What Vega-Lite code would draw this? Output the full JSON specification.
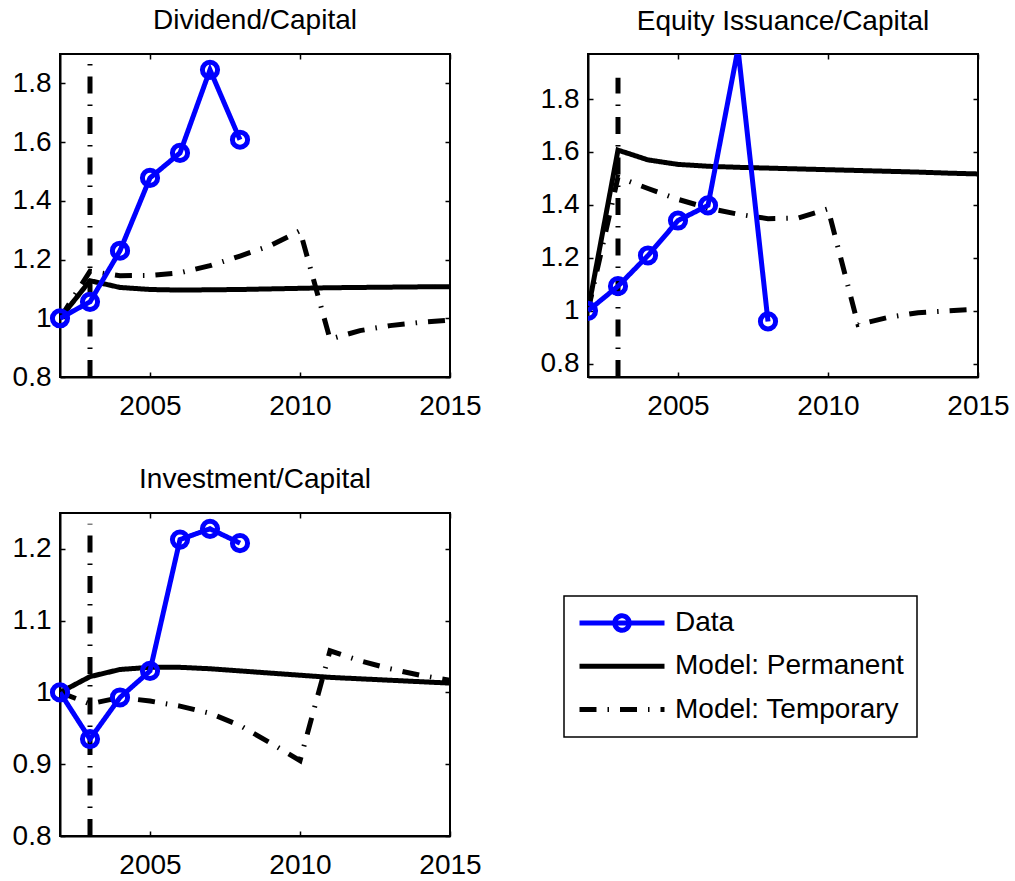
{
  "$schema": "https://vega.github.io/schema/vega-lite/v6.json",
  "background": "white",
  "padding": {"left": 11, "top": 6, "right": 0, "bottom": 0},
  "bounds": "flush",
  "columns": 2,
  "spacing": {"row": 136, "column": 138},
  "datasets": {
    "series": [
      {"panel": "Dividend/Capital", "series": "Model: Permanent", "year": 2002, "value": 1.0},
      {"panel": "Dividend/Capital", "series": "Model: Permanent", "year": 2003, "value": 1.128},
      {"panel": "Dividend/Capital", "series": "Model: Permanent", "year": 2004, "value": 1.105},
      {"panel": "Dividend/Capital", "series": "Model: Permanent", "year": 2005, "value": 1.098},
      {"panel": "Dividend/Capital", "series": "Model: Permanent", "year": 2006, "value": 1.096},
      {"panel": "Dividend/Capital", "series": "Model: Permanent", "year": 2007, "value": 1.097},
      {"panel": "Dividend/Capital", "series": "Model: Permanent", "year": 2008, "value": 1.098},
      {"panel": "Dividend/Capital", "series": "Model: Permanent", "year": 2009, "value": 1.1},
      {"panel": "Dividend/Capital", "series": "Model: Permanent", "year": 2010, "value": 1.102},
      {"panel": "Dividend/Capital", "series": "Model: Permanent", "year": 2011, "value": 1.104},
      {"panel": "Dividend/Capital", "series": "Model: Permanent", "year": 2012, "value": 1.105},
      {"panel": "Dividend/Capital", "series": "Model: Permanent", "year": 2013, "value": 1.106},
      {"panel": "Dividend/Capital", "series": "Model: Permanent", "year": 2014, "value": 1.107},
      {"panel": "Dividend/Capital", "series": "Model: Permanent", "year": 2015, "value": 1.107},
      {"panel": "Dividend/Capital", "series": "Model: Temporary", "year": 2002, "value": 1.0},
      {"panel": "Dividend/Capital", "series": "Model: Temporary", "year": 2003, "value": 1.16},
      {"panel": "Dividend/Capital", "series": "Model: Temporary", "year": 2004, "value": 1.145},
      {"panel": "Dividend/Capital", "series": "Model: Temporary", "year": 2005, "value": 1.146},
      {"panel": "Dividend/Capital", "series": "Model: Temporary", "year": 2006, "value": 1.155},
      {"panel": "Dividend/Capital", "series": "Model: Temporary", "year": 2007, "value": 1.179},
      {"panel": "Dividend/Capital", "series": "Model: Temporary", "year": 2008, "value": 1.212},
      {"panel": "Dividend/Capital", "series": "Model: Temporary", "year": 2009, "value": 1.247},
      {"panel": "Dividend/Capital", "series": "Model: Temporary", "year": 2010, "value": 1.298},
      {"panel": "Dividend/Capital", "series": "Model: Temporary", "year": 2011, "value": 0.929},
      {"panel": "Dividend/Capital", "series": "Model: Temporary", "year": 2012, "value": 0.958},
      {"panel": "Dividend/Capital", "series": "Model: Temporary", "year": 2013, "value": 0.975},
      {"panel": "Dividend/Capital", "series": "Model: Temporary", "year": 2014, "value": 0.986},
      {"panel": "Dividend/Capital", "series": "Model: Temporary", "year": 2015, "value": 0.994},
      {"panel": "Dividend/Capital", "series": "Data", "year": 2002, "value": 1.0},
      {"panel": "Dividend/Capital", "series": "Data", "year": 2003, "value": 1.056},
      {"panel": "Dividend/Capital", "series": "Data", "year": 2004, "value": 1.23},
      {"panel": "Dividend/Capital", "series": "Data", "year": 2005, "value": 1.478},
      {"panel": "Dividend/Capital", "series": "Data", "year": 2006, "value": 1.563},
      {"panel": "Dividend/Capital", "series": "Data", "year": 2007, "value": 1.846},
      {"panel": "Dividend/Capital", "series": "Data", "year": 2008, "value": 1.608},

      {"panel": "Equity Issuance/Capital", "series": "Model: Permanent", "year": 2002, "value": 1.0},
      {"panel": "Equity Issuance/Capital", "series": "Model: Permanent", "year": 2003, "value": 1.607},
      {"panel": "Equity Issuance/Capital", "series": "Model: Permanent", "year": 2004, "value": 1.57},
      {"panel": "Equity Issuance/Capital", "series": "Model: Permanent", "year": 2005, "value": 1.553},
      {"panel": "Equity Issuance/Capital", "series": "Model: Permanent", "year": 2006, "value": 1.546},
      {"panel": "Equity Issuance/Capital", "series": "Model: Permanent", "year": 2007, "value": 1.542},
      {"panel": "Equity Issuance/Capital", "series": "Model: Permanent", "year": 2008, "value": 1.539},
      {"panel": "Equity Issuance/Capital", "series": "Model: Permanent", "year": 2009, "value": 1.536},
      {"panel": "Equity Issuance/Capital", "series": "Model: Permanent", "year": 2010, "value": 1.533},
      {"panel": "Equity Issuance/Capital", "series": "Model: Permanent", "year": 2011, "value": 1.53},
      {"panel": "Equity Issuance/Capital", "series": "Model: Permanent", "year": 2012, "value": 1.527},
      {"panel": "Equity Issuance/Capital", "series": "Model: Permanent", "year": 2013, "value": 1.524},
      {"panel": "Equity Issuance/Capital", "series": "Model: Permanent", "year": 2014, "value": 1.52},
      {"panel": "Equity Issuance/Capital", "series": "Model: Permanent", "year": 2015, "value": 1.517},
      {"panel": "Equity Issuance/Capital", "series": "Model: Temporary", "year": 2002, "value": 1.0},
      {"panel": "Equity Issuance/Capital", "series": "Model: Temporary", "year": 2003, "value": 1.505},
      {"panel": "Equity Issuance/Capital", "series": "Model: Temporary", "year": 2004, "value": 1.462},
      {"panel": "Equity Issuance/Capital", "series": "Model: Temporary", "year": 2005, "value": 1.421},
      {"panel": "Equity Issuance/Capital", "series": "Model: Temporary", "year": 2006, "value": 1.388},
      {"panel": "Equity Issuance/Capital", "series": "Model: Temporary", "year": 2007, "value": 1.365},
      {"panel": "Equity Issuance/Capital", "series": "Model: Temporary", "year": 2008, "value": 1.348},
      {"panel": "Equity Issuance/Capital", "series": "Model: Temporary", "year": 2009, "value": 1.35},
      {"panel": "Equity Issuance/Capital", "series": "Model: Temporary", "year": 2010, "value": 1.385},
      {"panel": "Equity Issuance/Capital", "series": "Model: Temporary", "year": 2011, "value": 0.948},
      {"panel": "Equity Issuance/Capital", "series": "Model: Temporary", "year": 2012, "value": 0.975},
      {"panel": "Equity Issuance/Capital", "series": "Model: Temporary", "year": 2013, "value": 0.993},
      {"panel": "Equity Issuance/Capital", "series": "Model: Temporary", "year": 2014, "value": 1.0},
      {"panel": "Equity Issuance/Capital", "series": "Model: Temporary", "year": 2015, "value": 1.006},
      {"panel": "Equity Issuance/Capital", "series": "Data", "year": 2002, "value": 1.0},
      {"panel": "Equity Issuance/Capital", "series": "Data", "year": 2003, "value": 1.093},
      {"panel": "Equity Issuance/Capital", "series": "Data", "year": 2004, "value": 1.209},
      {"panel": "Equity Issuance/Capital", "series": "Data", "year": 2005, "value": 1.341},
      {"panel": "Equity Issuance/Capital", "series": "Data", "year": 2006, "value": 1.398},
      {"panel": "Equity Issuance/Capital", "series": "Data", "year": 2007, "value": 1.99},
      {"panel": "Equity Issuance/Capital", "series": "Data", "year": 2008, "value": 0.96},

      {"panel": "Investment/Capital", "series": "Model: Permanent", "year": 2002, "value": 1.0},
      {"panel": "Investment/Capital", "series": "Model: Permanent", "year": 2003, "value": 1.022},
      {"panel": "Investment/Capital", "series": "Model: Permanent", "year": 2004, "value": 1.032},
      {"panel": "Investment/Capital", "series": "Model: Permanent", "year": 2005, "value": 1.035},
      {"panel": "Investment/Capital", "series": "Model: Permanent", "year": 2006, "value": 1.035},
      {"panel": "Investment/Capital", "series": "Model: Permanent", "year": 2007, "value": 1.033},
      {"panel": "Investment/Capital", "series": "Model: Permanent", "year": 2008, "value": 1.03},
      {"panel": "Investment/Capital", "series": "Model: Permanent", "year": 2009, "value": 1.027},
      {"panel": "Investment/Capital", "series": "Model: Permanent", "year": 2010, "value": 1.024},
      {"panel": "Investment/Capital", "series": "Model: Permanent", "year": 2011, "value": 1.021},
      {"panel": "Investment/Capital", "series": "Model: Permanent", "year": 2012, "value": 1.019},
      {"panel": "Investment/Capital", "series": "Model: Permanent", "year": 2013, "value": 1.017},
      {"panel": "Investment/Capital", "series": "Model: Permanent", "year": 2014, "value": 1.015},
      {"panel": "Investment/Capital", "series": "Model: Permanent", "year": 2015, "value": 1.013},
      {"panel": "Investment/Capital", "series": "Model: Temporary", "year": 2002, "value": 1.0},
      {"panel": "Investment/Capital", "series": "Model: Temporary", "year": 2003, "value": 0.984},
      {"panel": "Investment/Capital", "series": "Model: Temporary", "year": 2004, "value": 0.993},
      {"panel": "Investment/Capital", "series": "Model: Temporary", "year": 2005, "value": 0.988},
      {"panel": "Investment/Capital", "series": "Model: Temporary", "year": 2006, "value": 0.981},
      {"panel": "Investment/Capital", "series": "Model: Temporary", "year": 2007, "value": 0.971},
      {"panel": "Investment/Capital", "series": "Model: Temporary", "year": 2008, "value": 0.954},
      {"panel": "Investment/Capital", "series": "Model: Temporary", "year": 2009, "value": 0.93},
      {"panel": "Investment/Capital", "series": "Model: Temporary", "year": 2010, "value": 0.905},
      {"panel": "Investment/Capital", "series": "Model: Temporary", "year": 2011, "value": 1.058},
      {"panel": "Investment/Capital", "series": "Model: Temporary", "year": 2012, "value": 1.044},
      {"panel": "Investment/Capital", "series": "Model: Temporary", "year": 2013, "value": 1.033},
      {"panel": "Investment/Capital", "series": "Model: Temporary", "year": 2014, "value": 1.024},
      {"panel": "Investment/Capital", "series": "Model: Temporary", "year": 2015, "value": 1.017},
      {"panel": "Investment/Capital", "series": "Data", "year": 2002, "value": 1.0},
      {"panel": "Investment/Capital", "series": "Data", "year": 2003, "value": 0.935},
      {"panel": "Investment/Capital", "series": "Data", "year": 2004, "value": 0.993},
      {"panel": "Investment/Capital", "series": "Data", "year": 2005, "value": 1.03},
      {"panel": "Investment/Capital", "series": "Data", "year": 2006, "value": 1.213},
      {"panel": "Investment/Capital", "series": "Data", "year": 2007, "value": 1.228},
      {"panel": "Investment/Capital", "series": "Data", "year": 2008, "value": 1.208}
    ],
    "shock": [
      {"panel": "Dividend/Capital", "year": 2003, "lo": 0.8, "hi": 1.866},
      {"panel": "Equity Issuance/Capital", "year": 2003, "lo": 0.75, "hi": 1.88},
      {"panel": "Investment/Capital", "year": 2003, "lo": 0.8, "hi": 1.235}
    ]
  },
  "concat": [
    {
      "title": "Dividend/Capital",
      "width": 390, "height": 323,
      "resolve": {"axis": {"x": "independent", "y": "independent"}},
      "layer": [
        {
          "data": {"name": "shock"},
          "transform": [{"filter": "datum.panel === 'Dividend/Capital'"}],
          "mark": {"type": "rule", "color": "black", "strokeWidth": 5, "strokeDash": [17, 11, 1.5, 11], "clip": true},
          "encoding": {
            "x": {"field": "year", "type": "quantitative", "scale": {"domain": [2002, 2015], "nice": false, "zero": false},
                  "axis": {"orient": "top", "values": [2005, 2010, 2015], "labels": false, "domain": false, "title": null}},
            "y": {"field": "lo", "type": "quantitative", "scale": {"domain": [0.8, 1.9], "nice": false, "zero": false},
                  "axis": {"orient": "right", "values": [0.8, 1, 1.2, 1.4, 1.6, 1.8], "labels": false, "domain": false, "title": null}},
            "y2": {"field": "hi"}
          }
        },
        {
          "data": {"name": "series"},
          "transform": [{"filter": "datum.panel === 'Dividend/Capital'"}],
          "mark": {"type": "line", "strokeWidth": 5, "clip": true},
          "encoding": {
            "x": {"field": "year", "type": "quantitative", "axis": {"orient": "bottom", "values": [2005, 2010, 2015], "format": "d", "title": null}},
            "y": {"field": "value", "type": "quantitative", "axis": {"orient": "left", "values": [0.8, 1, 1.2, 1.4, 1.6, 1.8], "format": "~g", "title": null}},
            "color": {"field": "series", "type": "nominal",
                      "scale": {"domain": ["Data", "Model: Permanent", "Model: Temporary"], "range": ["#0000ff", "#000000", "#000000"]},
                      "legend": {"title": null, "symbolType": "stroke", "encode": {"symbols": {"update": {"shape": {"signal": "datum.value === 'Data' ? 'M-1,0H1M0.17,0A0.17,0.17,0,1,1,-0.17,0A0.17,0.17,0,1,1,0.17,0' : 'stroke'"}}}, "legend": {"update": {"strokeWidth": {"value": 1.5}}}}}},
            "strokeDash": {"field": "series", "type": "nominal",
                      "scale": {"domain": ["Data", "Model: Permanent", "Model: Temporary"], "range": [[1, 0], [1, 0], [17, 11, 1.5, 11]]},
                      "legend": {"title": null, "symbolType": "stroke", "encode": {"symbols": {"update": {"shape": {"signal": "datum.value === 'Data' ? 'M-1,0H1M0.17,0A0.17,0.17,0,1,1,-0.17,0A0.17,0.17,0,1,1,0.17,0' : 'stroke'"}}}, "legend": {"update": {"strokeWidth": {"value": 1.5}}}}}}
          }
        },
        {
          "data": {"name": "series"},
          "transform": [{"filter": "datum.panel === 'Dividend/Capital' && datum.series === 'Data'"}],
          "mark": {"type": "point", "filled": false, "size": 230, "strokeWidth": 5, "opacity": 1, "color": "#0000ff"},
          "encoding": {
            "x": {"field": "year", "type": "quantitative", "axis": null},
            "y": {"field": "value", "type": "quantitative", "axis": null}
          }
        }
      ]
    },
    {
      "title": "Equity Issuance/Capital",
      "width": 390, "height": 323,
      "resolve": {"axis": {"x": "independent", "y": "independent"}},
      "layer": [
        {
          "data": {"name": "shock"},
          "transform": [{"filter": "datum.panel === 'Equity Issuance/Capital'"}],
          "mark": {"type": "rule", "color": "black", "strokeWidth": 5, "strokeDash": [17, 11, 1.5, 11], "clip": true},
          "encoding": {
            "x": {"field": "year", "type": "quantitative", "scale": {"domain": [2002, 2015], "nice": false, "zero": false},
                  "axis": {"orient": "top", "values": [2005, 2010, 2015], "labels": false, "domain": false, "title": null}},
            "y": {"field": "lo", "type": "quantitative", "scale": {"domain": [0.75, 1.97], "nice": false, "zero": false},
                  "axis": {"orient": "right", "values": [0.8, 1, 1.2, 1.4, 1.6, 1.8], "labels": false, "domain": false, "title": null}},
            "y2": {"field": "hi"}
          }
        },
        {
          "data": {"name": "series"},
          "transform": [{"filter": "datum.panel === 'Equity Issuance/Capital'"}],
          "mark": {"type": "line", "strokeWidth": 5, "clip": true},
          "encoding": {
            "x": {"field": "year", "type": "quantitative", "axis": {"orient": "bottom", "values": [2005, 2010, 2015], "format": "d", "title": null}},
            "y": {"field": "value", "type": "quantitative", "axis": {"orient": "left", "values": [0.8, 1, 1.2, 1.4, 1.6, 1.8], "format": "~g", "title": null}},
            "color": {"field": "series", "type": "nominal",
                      "scale": {"domain": ["Data", "Model: Permanent", "Model: Temporary"], "range": ["#0000ff", "#000000", "#000000"]},
                      "legend": {"title": null, "symbolType": "stroke", "encode": {"symbols": {"update": {"shape": {"signal": "datum.value === 'Data' ? 'M-1,0H1M0.17,0A0.17,0.17,0,1,1,-0.17,0A0.17,0.17,0,1,1,0.17,0' : 'stroke'"}}}, "legend": {"update": {"strokeWidth": {"value": 1.5}}}}}},
            "strokeDash": {"field": "series", "type": "nominal",
                      "scale": {"domain": ["Data", "Model: Permanent", "Model: Temporary"], "range": [[1, 0], [1, 0], [17, 11, 1.5, 11]]},
                      "legend": {"title": null, "symbolType": "stroke", "encode": {"symbols": {"update": {"shape": {"signal": "datum.value === 'Data' ? 'M-1,0H1M0.17,0A0.17,0.17,0,1,1,-0.17,0A0.17,0.17,0,1,1,0.17,0' : 'stroke'"}}}, "legend": {"update": {"strokeWidth": {"value": 1.5}}}}}}
          }
        },
        {
          "data": {"name": "series"},
          "transform": [{"filter": "datum.panel === 'Equity Issuance/Capital' && datum.series === 'Data' && datum.value <= 1.97"}],
          "mark": {"type": "point", "filled": false, "size": 230, "strokeWidth": 5, "opacity": 1, "color": "#0000ff", "clip": true},
          "encoding": {
            "x": {"field": "year", "type": "quantitative", "axis": null},
            "y": {"field": "value", "type": "quantitative", "axis": null}
          }
        }
      ]
    },
    {
      "title": "Investment/Capital",
      "width": 390, "height": 323,
      "resolve": {"axis": {"x": "independent", "y": "independent"}},
      "layer": [
        {
          "data": {"name": "shock"},
          "transform": [{"filter": "datum.panel === 'Investment/Capital'"}],
          "mark": {"type": "rule", "color": "black", "strokeWidth": 5, "strokeDash": [17, 11, 1.5, 11], "clip": true},
          "encoding": {
            "x": {"field": "year", "type": "quantitative", "scale": {"domain": [2002, 2015], "nice": false, "zero": false},
                  "axis": {"orient": "top", "values": [2005, 2010, 2015], "labels": false, "domain": false, "title": null}},
            "y": {"field": "lo", "type": "quantitative", "scale": {"domain": [0.8, 1.25], "nice": false, "zero": false},
                  "axis": {"orient": "right", "values": [0.8, 0.9, 1, 1.1, 1.2], "labels": false, "domain": false, "title": null}},
            "y2": {"field": "hi"}
          }
        },
        {
          "data": {"name": "series"},
          "transform": [{"filter": "datum.panel === 'Investment/Capital'"}],
          "mark": {"type": "line", "strokeWidth": 5, "clip": true},
          "encoding": {
            "x": {"field": "year", "type": "quantitative", "axis": {"orient": "bottom", "values": [2005, 2010, 2015], "format": "d", "title": null}},
            "y": {"field": "value", "type": "quantitative", "axis": {"orient": "left", "values": [0.8, 0.9, 1, 1.1, 1.2], "format": "~g", "title": null}},
            "color": {"field": "series", "type": "nominal",
                      "scale": {"domain": ["Data", "Model: Permanent", "Model: Temporary"], "range": ["#0000ff", "#000000", "#000000"]},
                      "legend": {"title": null, "symbolType": "stroke", "encode": {"symbols": {"update": {"shape": {"signal": "datum.value === 'Data' ? 'M-1,0H1M0.17,0A0.17,0.17,0,1,1,-0.17,0A0.17,0.17,0,1,1,0.17,0' : 'stroke'"}}}, "legend": {"update": {"strokeWidth": {"value": 1.5}}}}}},
            "strokeDash": {"field": "series", "type": "nominal",
                      "scale": {"domain": ["Data", "Model: Permanent", "Model: Temporary"], "range": [[1, 0], [1, 0], [17, 11, 1.5, 11]]},
                      "legend": {"title": null, "symbolType": "stroke", "encode": {"symbols": {"update": {"shape": {"signal": "datum.value === 'Data' ? 'M-1,0H1M0.17,0A0.17,0.17,0,1,1,-0.17,0A0.17,0.17,0,1,1,0.17,0' : 'stroke'"}}}, "legend": {"update": {"strokeWidth": {"value": 1.5}}}}}}
          }
        },
        {
          "data": {"name": "series"},
          "transform": [{"filter": "datum.panel === 'Investment/Capital' && datum.series === 'Data'"}],
          "mark": {"type": "point", "filled": false, "size": 230, "strokeWidth": 5, "opacity": 1, "color": "#0000ff"},
          "encoding": {
            "x": {"field": "year", "type": "quantitative", "axis": null},
            "y": {"field": "value", "type": "quantitative", "axis": null}
          }
        }
      ]
    }
  ],
  "config": {
    "font": "Liberation Sans",
    "view": {"stroke": "black", "strokeWidth": 2},
    "title": {"font": "Liberation Sans", "fontSize": 28, "fontWeight": "normal", "color": "black", "anchor": "middle", "baseline": "alphabetic", "offset": 17},
    "axis": {
      "labelFont": "Liberation Sans", "labelFontSize": 28, "labelColor": "black",
      "labelFlush": false, "labelOverlap": false, "grid": false,
      "tickSize": -5, "tickColor": "black", "tickWidth": 1.5,
      "domainColor": "black", "domainWidth": 2
    },
    "axisX": {"labelPadding": 20},
    "axisY": {"labelPadding": 14},
    "legend": {
      "orient": "none", "legendX": 504, "legendY": 542,
      "labelFont": "Liberation Sans", "labelFontSize": 28, "labelColor": "black", "labelLimit": 400,
      "symbolSize": 7225, "symbolStrokeWidth": 5,
      "strokeColor": "black", "fillColor": "white", "padding": 13,
      "clipHeight": 28, "rowPadding": 15.3,
      "symbolOffset": 0, "labelOffset": 8
    }
  }
}
